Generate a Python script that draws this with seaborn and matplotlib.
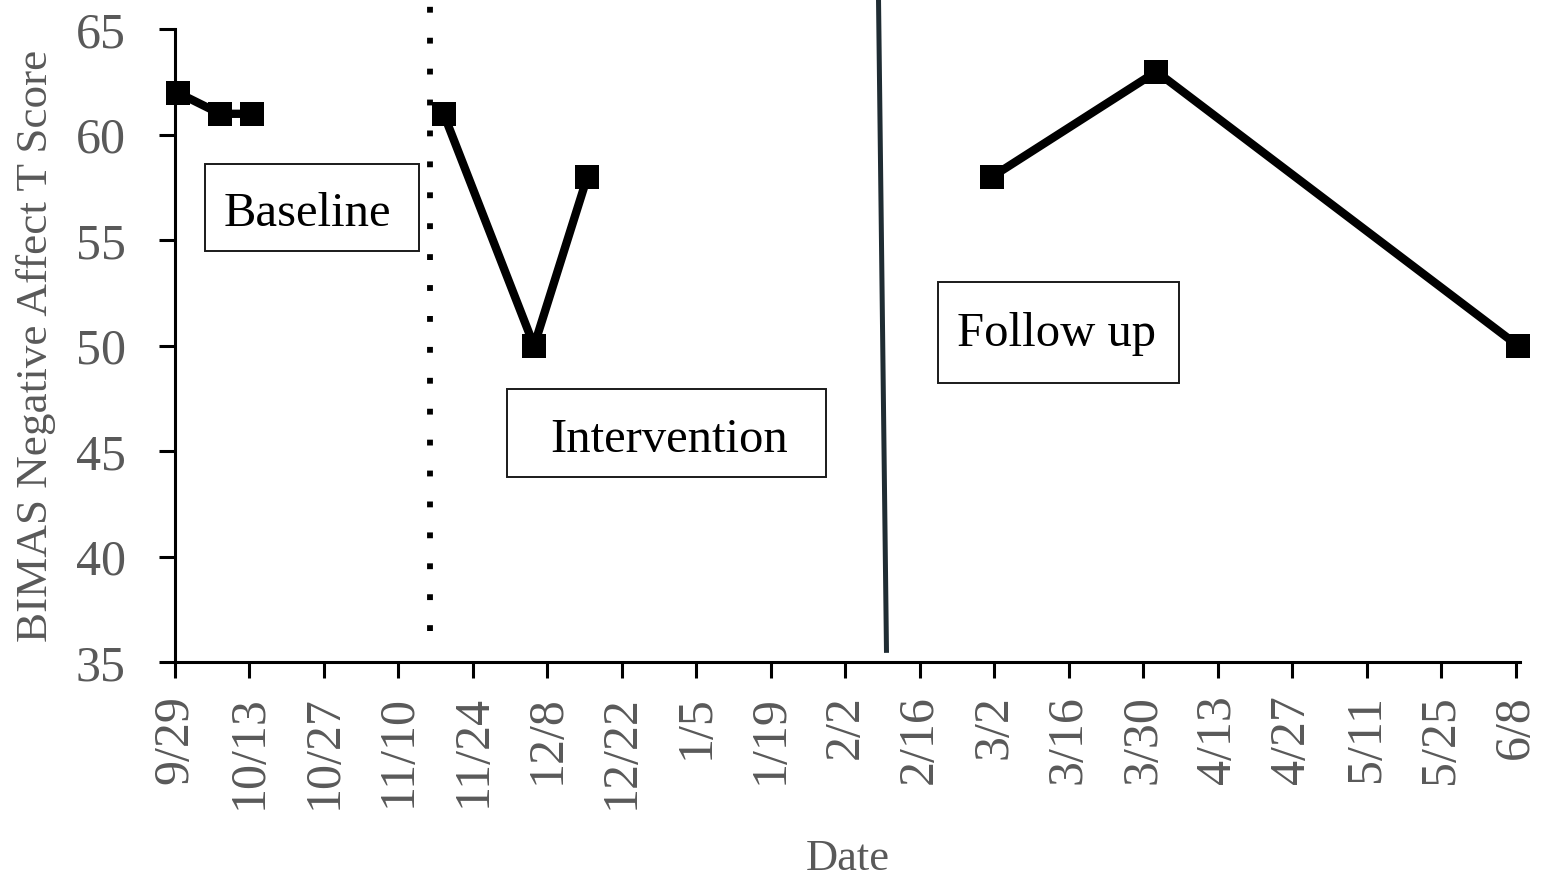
import matplotlib
matplotlib.use('Agg')
import matplotlib.pyplot as plt
import seaborn as sns
import pandas as pd
from matplotlib.patches import Rectangle

# ---- data ----
phases = ['Baseline', 'Baseline', 'Baseline',
          'Intervention', 'Intervention', 'Intervention',
          'Follow up', 'Follow up', 'Follow up']
dates = ['2018-09-29 12:00', '2018-10-07 12:00', '2018-10-13 12:00',
         '2018-11-18 12:00', '2018-12-05 12:00', '2018-12-15 12:00',
         '2019-03-01 12:00', '2019-04-01 12:00', '2019-06-08 12:00']
scores = [62, 61, 61, 61, 50, 58, 58, 63, 50]

tick_labels = ['9/29', '10/13', '10/27', '11/10', '11/24', '12/8', '12/22', '1/5',
               '1/19', '2/2', '2/16', '3/2', '3/16', '3/30', '4/13', '4/27',
               '5/11', '5/25', '6/8']
y_ticks = [35, 40, 45, 50, 55, 60, 65]

phase_line_1_date = '2018-11-16'
phase_line_1_y = [36.5, 66.4]
phase_line_2_dates = ['2019-02-08 06:00', '2019-02-09 18:00']
phase_line_2_y = [66.4, 35.45]

box_labels = ['Baseline', 'Intervention', 'Follow up']

# ---- style ----
sns.set_theme(style='ticks')
plt.rcParams['font.family'] = ['Liberation Serif', 'DejaVu Serif']

df = pd.DataFrame({'phase': phases, 'date': pd.to_datetime(dates), 'score': scores})

fig = plt.figure(figsize=(15.41, 8.83), dpi=100)
ax = fig.add_axes([0.11356, 0.2499, 0.8728, 0.7168])

sns.lineplot(data=df, x='date', y='score', units='phase', estimator=None,
             color='black', linewidth=6, marker='s', markersize=17.5,
             markeredgewidth=0, markerfacecolor='black', clip_on=False,
             zorder=4, ax=ax, legend=False)

# phase change lines
d1 = pd.Timestamp(phase_line_1_date)
ax.plot([d1, d1], phase_line_1_y, color='black', linewidth=4.2,
        linestyle=(0, (1, 4.3)), dash_capstyle='butt', clip_on=False, zorder=3)
d2 = pd.to_datetime(phase_line_2_dates)
ax.plot(d2, phase_line_2_y, color='#1f2c33', linewidth=3.6, clip_on=False,
        solid_capstyle='butt', zorder=3)

# axes
tick_dates = pd.date_range('2018-09-29', periods=len(tick_labels), freq='14D')
ax.set_xlim(pd.Timestamp('2018-09-29'), pd.Timestamp('2019-06-08 20:00'))
ax.set_ylim(35, 65)
ax.set_xticks(tick_dates)
ax.set_xticklabels(tick_labels)
ax.set_yticks(y_ticks)

sns.despine(ax=ax)
for s in ['left', 'bottom']:
    ax.spines[s].set_linewidth(2.2)
    ax.spines[s].set_color('black')

ax.tick_params(axis='both', direction='out', length=11.5, width=2.2,
               color='black', labelcolor='#595959', labelsize=36)
ax.tick_params(axis='x', labelrotation=90, pad=12)
ax.tick_params(axis='y', pad=24)

ax.set_xlabel('Date', fontsize=32, color='#595959', labelpad=22)
ax.set_ylabel('BIMAS Negative Affect T Score', fontsize=32.5, color='#595959',
              labelpad=14)
ax.grid(False)

# phase boxes (axes fraction coords)
boxes = [(0.0223, 0.6498, 0.1591, 0.1374),
         (0.2468, 0.2927, 0.2372, 0.1391),
         (0.5673, 0.4412, 0.1792, 0.1596)]
text_pos = [(0.0364, 0.6893), (0.2788, 0.3327), (0.5814, 0.4992)]
for label, (bx, by, bw, bh), (tx, ty) in zip(box_labels, boxes, text_pos):
    ax.add_patch(Rectangle((bx, by), bw, bh, transform=ax.transAxes,
                           facecolor='white', edgecolor='#1a1a1a',
                           linewidth=1.4, zorder=5, clip_on=False))
    ax.text(tx, ty, label, transform=ax.transAxes,
            ha='left', va='baseline', fontsize=35, color='black', zorder=6)

fig.savefig('out.png', dpi=100)
